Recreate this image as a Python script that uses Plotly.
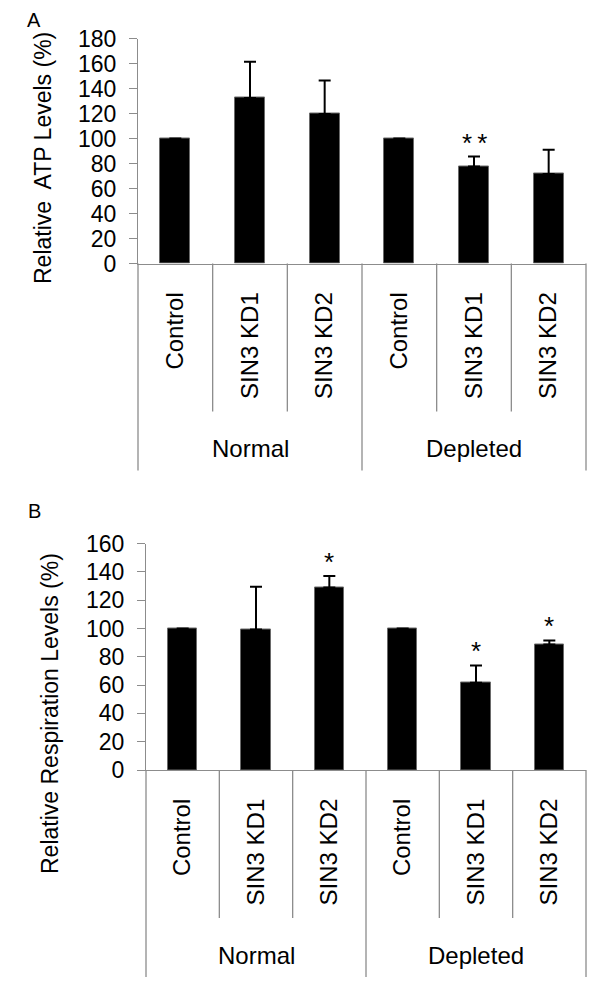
import plotly.graph_objects as go

# -------------------------------
# data
# -------------------------------
groups = ["Normal", "Depleted"]
conditions = ["Control", "SIN3 KD1", "SIN3 KD2"]

atp_mean = [100, 132.5, 119.7, 100, 77.6, 71.7]
atp_err = [0, 29.0, 26.7, 0, 8.0, 19.2]
atp_sig = ["", "", "", "", "*\u2009*", ""]

resp_mean = [100, 99.3, 128.9, 100, 61.6, 88.7]
resp_err = [0, 30.2, 8.2, 0, 12.3, 2.8]
resp_sig = ["", "", "*", "", "*", "*"]

FONT = "Liberation Sans, Arial, sans-serif"
AXIS_GRAY = "#8c8c8c"

# the page body has an 8px margin, so the figure is drawn 8px in from the corner
OFF = 8
W, H = 600 - OFF, 985 - OFF


def px(x):
    return (x - OFF) / W


def py(y):
    return 1 - (y - OFF) / H


labels = [c for g in groups for c in conditions]
xpos = list(range(len(labels)))
n = len(labels)

# panel geometry in page pixels (left, right, top, bottom of the plot area)
panels = [
    dict(name="A", x0=138, x1=586, top=38.5, bottom=263.5, ymax=180, letter_y=None,
         mean=atp_mean, err=atp_err, sig=atp_sig,
         title="Relative\u00a0 ATP Levels (%)", title_x=43, title_y=158),
    dict(name="B", x0=146, x1=586, top=543.5, bottom=770, ymax=160, letter_y=511,
         mean=resp_mean, err=resp_err, sig=resp_sig,
         title="Relative Respiration Levels (%)", title_x=50, title_y=714),
]

fig = go.Figure()
annotations = []
shapes = []


def centred(**kw):
    kw.setdefault("yanchor", "middle")
    return dict(showarrow=False, xanchor="center", **kw)


for i, p in enumerate(panels):
    sfx = "" if i == 0 else str(i + 1)
    xa, ya = "x" + sfx, "y" + sfx
    plot_h = p["bottom"] - p["top"]

    fig.add_trace(go.Bar(
        x=xpos, y=p["mean"], width=0.4, xaxis=xa, yaxis=ya,
        marker=dict(color="black", line=dict(color="#6a6a6a", width=1)),
        error_y=dict(type="data", array=p["err"], arrayminus=[0] * n, symmetric=False,
                     color="black", thickness=2, width=6),
        showlegend=False, hoverinfo="skip",
    ))

    fig.update_layout(**{
        "xaxis" + sfx: dict(
            domain=[px(p["x0"]), px(p["x1"])], anchor=ya, range=[-0.5, n - 0.5],
            tickmode="array", tickvals=xpos, ticktext=labels, tickangle=-90,
            ticks="", ticklabelstandoff=18, automargin=False,
            tickfont=dict(family=FONT, size=24, color="black"),
            showline=True, linecolor=AXIS_GRAY, linewidth=1.3,
            showgrid=False, zeroline=False, fixedrange=True,
        ),
        "yaxis" + sfx: dict(
            domain=[py(p["bottom"]), py(p["top"])], anchor=xa,
            range=[0, p["ymax"]], dtick=20, tick0=0, automargin=False,
            ticks="outside", ticklen=8, tickwidth=1.3, tickcolor=AXIS_GRAY,
            ticklabelstandoff=8,
            tickfont=dict(family=FONT, size=23, color="black"),
            showline=True, linecolor=AXIS_GRAY, linewidth=1.3,
            showgrid=False, zeroline=False, fixedrange=True,
        ),
    })

    # category dividers below the axis
    for k in range(n + 1):
        outer = k % len(conditions) == 0
        depth = 207 if outer else 148
        shapes.append(dict(
            type="line", xref=xa + " domain", yref=ya + " domain",
            x0=k / n, x1=k / n, y0=0, y1=-depth / plot_h,
            line=dict(color=AXIS_GRAY, width=1.3),
        ))

    # group names
    for g_i, g in enumerate(groups):
        centre = sum(xpos[g_i * len(conditions):(g_i + 1) * len(conditions)]) / len(conditions)
        annotations.append(centred(
            text=g, x=centre, xref=xa, y=-185 / plot_h, yref=ya + " domain",
            font=dict(family=FONT, size=24, color="black"),
        ))

    # significance stars
    for x, m, e, s in zip(xpos, p["mean"], p["err"], p["sig"]):
        if s:
            annotations.append(centred(
                text=s, x=x, xref=xa, y=m + e, yref=ya, yshift=14,
                font=dict(family=FONT, size=26, color="black"),
            ))

    # y title
    annotations.append(centred(
        text=p["title"], textangle=-90, x=px(p["title_x"]), xref="paper",
        y=py(p["title_y"]), yref="paper",
        font=dict(family=FONT, size=23, color="black"),
    ))

    # panel letter (A sits right at the top edge)
    if p["letter_y"] is None:
        letter_pos = dict(y=1, yanchor="top", borderpad=0)
    else:
        letter_pos = dict(y=py(p["letter_y"]))
    annotations.append(centred(
        text=p["name"], x=px(34), xref="paper", yref="paper",
        font=dict(family=FONT, size=20, color="black"), **letter_pos,
    ))

fig.update_layout(
    width=W, height=H, autosize=False,
    margin=dict(l=0, r=0, t=0, b=0, autoexpand=False),
    template="plotly_white",
    paper_bgcolor="white", plot_bgcolor="white",
    bargap=0, annotations=annotations, shapes=shapes,
)

fig.write_html("out.html")
